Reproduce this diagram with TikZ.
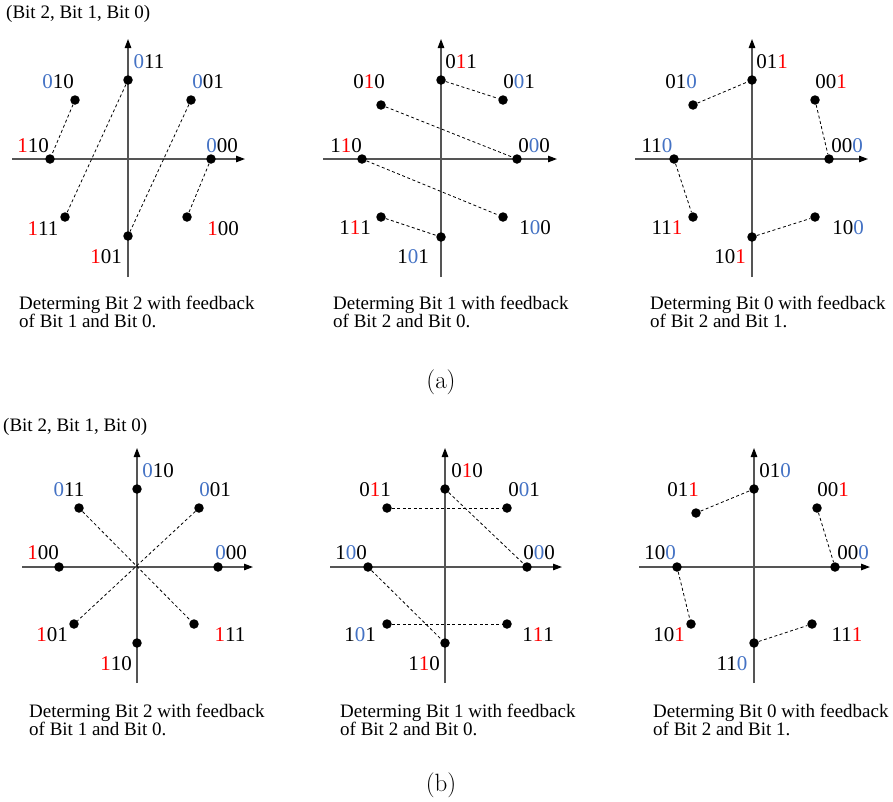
\documentclass[tikz,border=0pt]{standalone}
\usepackage{fontspec}
\usepackage{xcolor}
\usetikzlibrary{arrows.meta}
\newfontfamily\tnr{Liberation Serif}
\definecolor{bitblue}{RGB}{68,114,196}
\definecolor{bitred}{RGB}{255,0,0}
\definecolor{axisgray}{RGB}{85,85,85}
\newcommand{\bitb}[1]{\textcolor{bitblue}{#1}}
\newcommand{\bitr}[1]{\textcolor{bitred}{#1}}
\tikzset{
  dotn/.style={circle,fill=black,inner sep=0pt,minimum size=9.5pt},
  lbl/.style={inner sep=0pt,font=\tnr\fontsize{21pt}{21pt}\selectfont},
  capt/.style={inner sep=0pt,anchor=base west,font=\tnr\fontsize{19pt}{19pt}\selectfont},
  subcap/.style={inner sep=0pt,anchor=base,font=\fontsize{25pt}{25pt}\selectfont},
  axis/.style={draw=axisgray,line width=1.2pt,-{Triangle[length=9pt,width=6.5pt,color=black]}},
  link/.style={draw=black,line width=0.8pt,dash pattern=on 3pt off 2.5pt},
}

\begin{document}
\begin{tikzpicture}[x=1pt,y=-1pt]
\useasboundingbox (0,0) rectangle (893,801);

% (a), left
\node[capt] (hdA) at (6,18.3) {(Bit 2, Bit 1, Bit 0)};
\begin{scope}[shift={(128,159)}]
\coordinate (A1-w) at (-116,0); \coordinate (A1-e) at (117,0);
\coordinate (A1-s) at (0,118); \coordinate (A1-n) at (0,-120);
\draw[axis] (A1-w) -- (A1-e);
\draw[axis] (A1-s) -- (A1-n);
\node[dotn] (A1-011) at (0,-79) {};
\node[dotn] (A1-010) at (-53,-59) {};
\node[dotn] (A1-001) at (63,-59) {};
\node[dotn] (A1-110) at (-78,0) {};
\node[dotn] (A1-000) at (83,0) {};
\node[dotn] (A1-111) at (-63,58) {};
\node[dotn] (A1-100) at (59,58) {};
\node[dotn] (A1-101) at (0,77) {};
\node[lbl] (A1-t011) at (21,-97) {\bitb{0}11};
\node[lbl] (A1-t010) at (-70,-77) {\bitb{0}10};
\node[lbl] (A1-t001) at (80,-77) {\bitb{0}01};
\node[lbl] (A1-t110) at (-95,-13) {\bitr{1}10};
\node[lbl] (A1-t000) at (94,-13) {\bitb{0}00};
\node[lbl] (A1-t111) at (-85,70) {\bitr{1}11};
\node[lbl] (A1-t100) at (95,70) {\bitr{1}00};
\node[lbl] (A1-t101) at (-22,98) {\bitr{1}01};
\draw[link] (A1-010) -- (A1-110);
\draw[link] (A1-011) -- (A1-111);
\draw[link] (A1-001) -- (A1-101);
\draw[link] (A1-000) -- (A1-100);
\end{scope}
\node[capt] (A1-c1) at (19,309) {Determing Bit 2 with feedback};
\node[capt] (A1-c2) at (19,327.3) {of Bit 1 and Bit 0.};

% (a), middle
\begin{scope}[shift={(441,159)}]
\coordinate (A2-w) at (-118,0); \coordinate (A2-e) at (116,0);
\coordinate (A2-s) at (0,118); \coordinate (A2-n) at (0,-120);
\draw[axis] (A2-w) -- (A2-e);
\draw[axis] (A2-s) -- (A2-n);
\node[dotn] (A2-011) at (0,-79) {};
\node[dotn] (A2-010) at (-60,-54) {};
\node[dotn] (A2-001) at (62,-59) {};
\node[dotn] (A2-110) at (-79,0) {};
\node[dotn] (A2-000) at (76,0) {};
\node[dotn] (A2-111) at (-60,58) {};
\node[dotn] (A2-100) at (62,58) {};
\node[dotn] (A2-101) at (0,78) {};
\node[lbl] (A2-t011) at (20,-97) {0\bitr{1}1};
\node[lbl] (A2-t010) at (-72,-77) {0\bitr{1}0};
\node[lbl] (A2-t001) at (78,-77) {0\bitb{0}1};
\node[lbl] (A2-t110) at (-95,-13) {1\bitr{1}0};
\node[lbl] (A2-t000) at (93,-13) {0\bitb{0}0};
\node[lbl] (A2-t111) at (-86,69) {1\bitr{1}1};
\node[lbl] (A2-t100) at (94,69) {1\bitb{0}0};
\node[lbl] (A2-t101) at (-28,98) {1\bitb{0}1};
\draw[link] (A2-011) -- (A2-001);
\draw[link] (A2-010) -- (A2-000);
\draw[link] (A2-110) -- (A2-100);
\draw[link] (A2-111) -- (A2-101);
\end{scope}
\node[capt] (A2-c1) at (333,309) {Determing Bit 1 with feedback};
\node[capt] (A2-c2) at (333,327.3) {of Bit 2 and Bit 0.};

% (a), right
\begin{scope}[shift={(752,159)}]
\coordinate (A3-w) at (-117,0); \coordinate (A3-e) at (116,0);
\coordinate (A3-s) at (0,118); \coordinate (A3-n) at (0,-120);
\draw[axis] (A3-w) -- (A3-e);
\draw[axis] (A3-s) -- (A3-n);
\node[dotn] (A3-011) at (0,-79) {};
\node[dotn] (A3-010) at (-59,-54) {};
\node[dotn] (A3-001) at (63,-59) {};
\node[dotn] (A3-110) at (-78,0) {};
\node[dotn] (A3-000) at (77,0) {};
\node[dotn] (A3-111) at (-59,58) {};
\node[dotn] (A3-100) at (63,58) {};
\node[dotn] (A3-101) at (0,78) {};
\node[lbl] (A3-t011) at (20,-97) {01\bitr{1}};
\node[lbl] (A3-t010) at (-71,-77) {01\bitb{0}};
\node[lbl] (A3-t001) at (79,-77) {00\bitr{1}};
\node[lbl] (A3-t110) at (-95,-13) {11\bitb{0}};
\node[lbl] (A3-t000) at (95,-13) {00\bitb{0}};
\node[lbl] (A3-t111) at (-85,69) {11\bitr{1}};
\node[lbl] (A3-t100) at (96,69) {10\bitb{0}};
\node[lbl] (A3-t101) at (-22,98) {10\bitr{1}};
\draw[link] (A3-010) -- (A3-011);
\draw[link] (A3-001) -- (A3-000);
\draw[link] (A3-110) -- (A3-111);
\draw[link] (A3-101) -- (A3-100);
\end{scope}
\node[capt] (A3-c1) at (650,309) {Determing Bit 0 with feedback};
\node[capt] (A3-c2) at (650,327.3) {of Bit 2 and Bit 1.};

\node[subcap] (capa) at (441,388.5) {(a)};

% (b), left
\node[capt] (hdB) at (3,431.7) {(Bit 2, Bit 1, Bit 0)};
\begin{scope}[shift={(137,567)}]
\coordinate (B1-w) at (-115,0); \coordinate (B1-e) at (116,0);
\coordinate (B1-s) at (0,116); \coordinate (B1-n) at (0,-119);
\draw[axis] (B1-w) -- (B1-e);
\draw[axis] (B1-s) -- (B1-n);
\node[dotn] (B1-010) at (0,-78) {};
\node[dotn] (B1-011) at (-58,-59) {};
\node[dotn] (B1-001) at (62,-59) {};
\node[dotn] (B1-100) at (-78,0) {};
\node[dotn] (B1-000) at (81,0) {};
\node[dotn] (B1-101) at (-63,57) {};
\node[dotn] (B1-111) at (57,57) {};
\node[dotn] (B1-110) at (0,76) {};
\node[lbl] (B1-t010) at (21,-96) {\bitb{0}10};
\node[lbl] (B1-t011) at (-68,-77) {\bitb{0}11};
\node[lbl] (B1-t001) at (78,-77) {\bitb{0}01};
\node[lbl] (B1-t100) at (-94,-14) {\bitr{1}00};
\node[lbl] (B1-t000) at (94,-14) {\bitb{0}00};
\node[lbl] (B1-t101) at (-85,68) {\bitr{1}01};
\node[lbl] (B1-t111) at (93,68) {\bitr{1}11};
\node[lbl] (B1-t110) at (-21,97) {\bitr{1}10};
\draw[link] (B1-011) -- (B1-111);
\draw[link] (B1-001) -- (B1-101);
\end{scope}
\node[capt] (B1-c1) at (29,717) {Determing Bit 2 with feedback};
\node[capt] (B1-c2) at (29,735.3) {of Bit 1 and Bit 0.};

% (b), middle
\begin{scope}[shift={(445,567)}]
\coordinate (B2-w) at (-115,0); \coordinate (B2-e) at (117,0);
\coordinate (B2-s) at (0,116); \coordinate (B2-n) at (0,-119);
\draw[axis] (B2-w) -- (B2-e);
\draw[axis] (B2-s) -- (B2-n);
\node[dotn] (B2-010) at (0,-78) {};
\node[dotn] (B2-011) at (-58,-59) {};
\node[dotn] (B2-001) at (62,-59) {};
\node[dotn] (B2-100) at (-77,0) {};
\node[dotn] (B2-000) at (82,0) {};
\node[dotn] (B2-101) at (-58,57) {};
\node[dotn] (B2-111) at (62,57) {};
\node[dotn] (B2-110) at (0,76) {};
\node[lbl] (B2-t010) at (22,-96) {0\bitr{1}0};
\node[lbl] (B2-t011) at (-70,-77) {0\bitr{1}1};
\node[lbl] (B2-t001) at (79,-77) {0\bitb{0}1};
\node[lbl] (B2-t100) at (-94,-14) {1\bitb{0}0};
\node[lbl] (B2-t000) at (94,-14) {0\bitb{0}0};
\node[lbl] (B2-t101) at (-85,68) {1\bitb{0}1};
\node[lbl] (B2-t111) at (93,68) {1\bitr{1}1};
\node[lbl] (B2-t110) at (-21,97) {1\bitr{1}0};
\draw[link] (B2-011) -- (B2-001);
\draw[link] (B2-010) -- (B2-000);
\draw[link] (B2-100) -- (B2-110);
\draw[link] (B2-101) -- (B2-111);
\end{scope}
\node[capt] (B2-c1) at (340,717) {Determing Bit 1 with feedback};
\node[capt] (B2-c2) at (340,735.3) {of Bit 2 and Bit 0.};

% (b), right
\begin{scope}[shift={(754,567)}]
\coordinate (B3-w) at (-115,0); \coordinate (B3-e) at (116,0);
\coordinate (B3-s) at (0,116); \coordinate (B3-n) at (0,-119);
\draw[axis] (B3-w) -- (B3-e);
\draw[axis] (B3-s) -- (B3-n);
\node[dotn] (B3-010) at (0,-78) {};
\node[dotn] (B3-011) at (-58,-54) {};
\node[dotn] (B3-001) at (63,-59) {};
\node[dotn] (B3-100) at (-77,0) {};
\node[dotn] (B3-000) at (81,0) {};
\node[dotn] (B3-101) at (-63,57) {};
\node[dotn] (B3-111) at (58,57) {};
\node[dotn] (B3-110) at (0,76) {};
\node[lbl] (B3-t010) at (21,-96) {01\bitb{0}};
\node[lbl] (B3-t011) at (-71,-77) {01\bitr{1}};
\node[lbl] (B3-t001) at (79,-77) {00\bitr{1}};
\node[lbl] (B3-t100) at (-94,-14) {10\bitb{0}};
\node[lbl] (B3-t000) at (99,-14) {00\bitb{0}};
\node[lbl] (B3-t101) at (-85,68) {10\bitr{1}};
\node[lbl] (B3-t111) at (93,68) {11\bitr{1}};
\node[lbl] (B3-t110) at (-22,97) {11\bitb{0}};
\draw[link] (B3-011) -- (B3-010);
\draw[link] (B3-001) -- (B3-000);
\draw[link] (B3-100) -- (B3-101);
\draw[link] (B3-110) -- (B3-111);
\end{scope}
\node[capt] (B3-c1) at (653,717) {Determing Bit 0 with feedback};
\node[capt] (B3-c2) at (653,735.3) {of Bit 2 and Bit 1.};

\node[subcap] (capb) at (441,791.5) {(b)};
\end{tikzpicture}
\end{document}
